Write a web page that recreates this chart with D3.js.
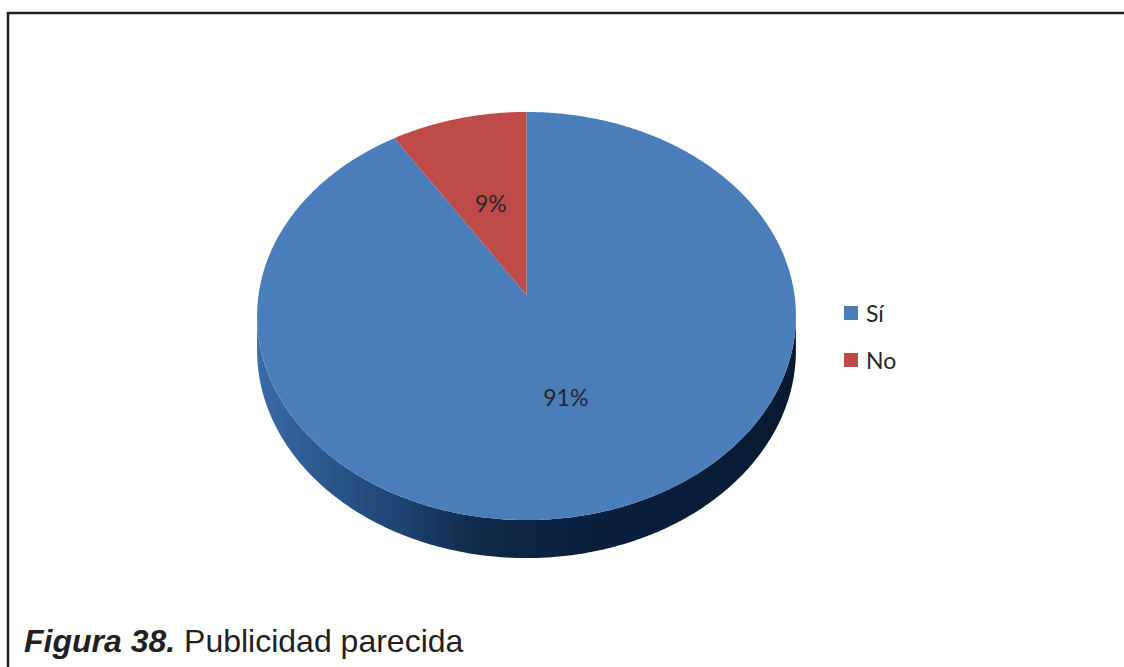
<!DOCTYPE html>
<html>
<head>
<meta charset="utf-8">
<script src="https://cdn.jsdelivr.net/npm/d3@7"></script>
<style>
  html, body { margin: 0; padding: 0; background: #ffffff; }
  svg { display: block; }
</style>
</head>
<body>
<svg id="chart" width="1124" height="667"></svg>
<script>
// Survey answers shown in the pie
const categories = ["Sí", "No"];
const values = [91, 9];
const valueLabels = ["91%", "9%"];
const sliceColors = ["#4a7ebb", "#be4b48"];
const captionBold = "Figura 38.";
const captionText = " Publicidad parecida";

const W = 1124, H = 667;
const svg = d3.select("#chart");

// Tilted-disc projection: angle 0 points away from the viewer (top of screen),
// angles grow clockwise like d3.pie. r is a fraction of the radius.
const cx = 526.5, cy = 295;
const ax = 268, ay = -171.5, persp = 0.103, depth = 34.1;
function project(angle, r, drop) {
  const u = Math.sin(angle) * r, w = Math.cos(angle) * r;
  const s = 1 / (1 + persp * w);
  return [cx + ax * u * s, (cy + ay * w) * s + (drop ? depth * s : 0)];
}
function arcPoints(a0, a1, drop) {
  const n = Math.max(2, Math.ceil(Math.abs(a1 - a0) / (Math.PI / 360)));
  return d3.range(n + 1).map(i => project(a0 + (a1 - a0) * i / n, 1, drop));
}
const line = d3.line();

const pie = d3.pie().sort(null).value(d => d)
  .startAngle(0).endAngle(2 * Math.PI);
const arcs = pie(values);

// Side wall gradient
const defs = svg.append("defs");
const grad = defs.append("linearGradient")
  .attr("id", "sideGrad")
  .attr("gradientUnits", "userSpaceOnUse")
  .attr("x1", cx - ax).attr("x2", cx + ax).attr("y1", 0).attr("y2", 0);
[[0, "#3b6ca8"], [0.09, "#2e5c93"], [0.27, "#1d4471"], [0.4, "#0f2a4a"], [0.6, "#0a2040"], [1, "#071a30"]]
  .forEach(([o, c]) => grad.append("stop").attr("offset", o).attr("stop-color", c));

// Visible part of the wall: from the right-hand silhouette round the front to the left
const edge = Math.acos(-persp);
arcs.forEach((a, i) => {
  const s0 = Math.max(a.startAngle, edge);
  const s1 = Math.min(a.endAngle, 2 * Math.PI - edge);
  if (s1 <= s0) return;
  const topPts = arcPoints(s0, s1, false);
  const botPts = arcPoints(s1, s0, true);
  svg.append("path")
    .attr("d", line(topPts.concat(botPts)) + "Z")
    .attr("fill", i === 0 ? "url(#sideGrad)" : d3.color(sliceColors[i]).darker(1.2));
});

// Top faces of the slices
svg.append("g").selectAll("path")
  .data(arcs)
  .join("path")
  .attr("d", d => line([project(0, 0, false)].concat(arcPoints(d.startAngle, d.endAngle, false))) + "Z")
  .attr("fill", (d, i) => sliceColors[i]);

// Percentage labels
svg.append("g").selectAll("text")
  .data(arcs)
  .join("text")
  .attr("x", d => project((d.startAngle + d.endAngle) / 2, 0.5, false)[0])
  .attr("y", d => project((d.startAngle + d.endAngle) / 2, 0.5, false)[1])
  .attr("text-anchor", "middle")
  .attr("dominant-baseline", "central")
  .attr("font-family", "Lato, 'Open Sans', sans-serif")
  .attr("font-size", 23)
  .attr("fill", "#262626")
  .text((d, i) => valueLabels[i]);

// Legend
const legend = svg.append("g").attr("transform", "translate(844,306)");
categories.forEach((c, i) => {
  const g = legend.append("g").attr("transform", `translate(0,${i * 47})`);
  g.append("rect").attr("width", 14).attr("height", 14).attr("fill", sliceColors[i]);
  g.append("text")
    .attr("x", 22).attr("y", 7)
    .attr("dominant-baseline", "central")
    .attr("font-family", "Lato, 'Open Sans', sans-serif")
    .attr("font-size", 23)
    .attr("fill", "#262626")
    .text(c);
});

// Frame (left and top edges)
svg.append("path")
  .attr("d", `M8,${H} L8,13 L${W},13`)
  .attr("fill", "none")
  .attr("stroke", "#231f20")
  .attr("stroke-width", 2.5);

// Caption
const cap = svg.append("text")
  .attr("x", 24).attr("y", 652)
  .attr("font-family", "'Liberation Sans', Arial, sans-serif")
  .attr("font-size", 32)
  .attr("fill", "#231f20");
cap.append("tspan").attr("font-weight", "bold").attr("font-style", "italic").text(captionBold);
cap.append("tspan").text(captionText);
</script>
</body>
</html>
